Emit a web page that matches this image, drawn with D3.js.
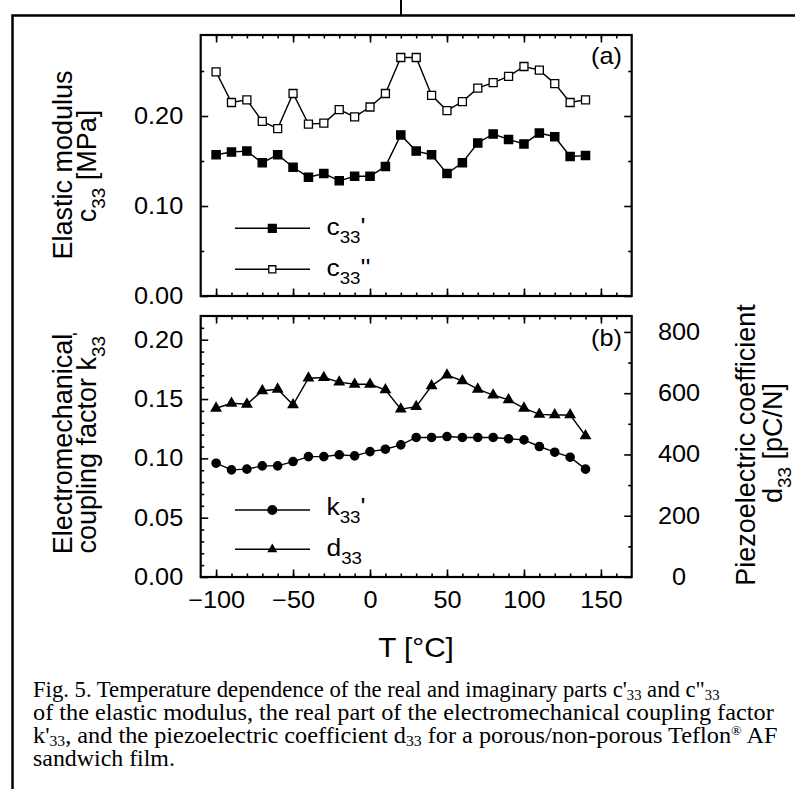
<!DOCTYPE html>
<html><head><meta charset="utf-8">
<script src="https://cdn.jsdelivr.net/npm/d3@7"></script>
<style>
html,body{margin:0;padding:0;background:#fff;}
svg{display:block;}
text{font-family:"Liberation Sans",Arial,Helvetica,sans-serif;fill:#000;}
text.cap{font-family:"Liberation Serif","Times New Roman",serif;}
</style></head><body>
<svg id="chart" width="795" height="789"></svg>
<script>
// ---------- data ----------
const temps   = [-100,-90,-80,-70,-60,-50,-40,-30,-20,-10,0,10,20,30,40,50,60,70,80,90,100,110,120,130,140];
const c33Real = [0.157,0.160,0.161,0.148,0.157,0.143,0.132,0.136,0.128,0.133,0.133,0.144,0.179,0.161,0.157,0.136,0.148,0.170,0.180,0.174,0.169,0.181,0.177,0.155,0.156];
const c33Imag = [0.249,0.215,0.218,0.194,0.186,0.225,0.191,0.192,0.207,0.199,0.210,0.225,0.265,0.265,0.223,0.206,0.216,0.231,0.237,0.244,0.255,0.251,0.236,0.215,0.218];
const k33Real = [0.0959,0.0903,0.0909,0.0937,0.0937,0.0973,0.1015,0.1015,0.1030,0.1021,0.1057,0.1077,0.1114,0.1176,0.1176,0.1184,0.1176,0.1176,0.1176,0.1165,0.1156,0.1100,0.1052,0.1010,0.0909];
const d33     = [551,567,564,608,613,562,649,651,636,629,629,611,548,556,624,659,640,613,594,578,551,531,529,529,461];

const xTicks     = [-100,-50,0,50,100,150];
const xMinor     = [-100,-90,-80,-70,-60,-50,-40,-30,-20,-10,0,10,20,30,40,50,60,70,80,90,100,110,120,130,140,150,160];
const topYTicks  = [0,0.10,0.20];
const topYMinor  = [0.05,0.15,0.25];
const botYTicks  = [0,0.05,0.10,0.15,0.20];
const botYMinor  = [0.01,0.02,0.03,0.04,0.06,0.07,0.08,0.09,0.11,0.12,0.13,0.14,0.16,0.17,0.18,0.19,0.21];
const d33Ticks   = [0,200,400,600,800];
const d33Minor   = [100,300,500,700];

// ---------- layout ----------
const SX = 1.1; // horizontal stretch of glyphs in the reference
const svg = d3.select("#chart");

const x  = d3.scaleLinear().domain([-110,170]).range([200.7,631.7]);
const yA = d3.scaleLinear().domain([0,0.29]).range([296,35]);
const yB = d3.scaleLinear().domain([0,0.22]).range([577,316]);
const yD = d3.scaleLinear().domain([0,852]).range([577,316]);

// page frame
svg.append("path").attr("d","M12.5,789V15.5H795").attr("fill","none").attr("stroke","#000").attr("stroke-width",2.5);
svg.append("path").attr("d","M401,0V15.5").attr("fill","none").attr("stroke","#000").attr("stroke-width",2);

function styleAxis(g){
  g.attr("font-size",null).attr("font-family",null);
  g.select(".domain").remove();
  g.selectAll("line").attr("stroke","#000").attr("stroke-width",1.6);
}

function drawFrame(y, yMaj, yMin, rightScale, rMaj, rMin, showX){
  const [yb, yt] = y.range();
  const [x0, x1] = x.range();
  [["b",yb],["t",yt]].forEach(([w,pos])=>{
    const mk = w==="b" ? d3.axisBottom : d3.axisTop;
    svg.append("g").attr("transform",`translate(0,${pos})`)
      .call(mk(x).tickValues(xMinor).tickSizeInner(-3.5).tickSizeOuter(0).tickFormat(""))
      .call(styleAxis);
    const g = svg.append("g").attr("transform",`translate(0,${pos})`)
      .call(mk(x).tickValues(xTicks).tickSizeInner(-7.5).tickSizeOuter(0).tickPadding(15)
        .tickFormat(w==="b" && showX ? d3.format("d") : ""))
      .call(styleAxis);
    g.selectAll("text").style("font-size","23px").attr("transform",`scale(${SX},1)`);
  });
  svg.append("g").attr("transform",`translate(${x0},0)`)
    .call(d3.axisLeft(y).tickValues(yMin).tickSizeInner(-3.5).tickSizeOuter(0).tickFormat(""))
    .call(styleAxis);
  const gl = svg.append("g").attr("transform",`translate(${x0},0)`)
    .call(d3.axisLeft(y).tickValues(yMaj).tickSizeInner(-7.5).tickSizeOuter(0).tickFormat(d3.format(".2f")))
    .call(styleAxis);
  gl.selectAll("text").style("font-size","23px").attr("x",-17.5/SX).attr("transform",`scale(${SX},1)`);
  const rs = rightScale || y;
  svg.append("g").attr("transform",`translate(${x1},0)`)
    .call(d3.axisRight(rs).tickValues(rightScale ? rMin : yMin).tickSizeInner(-3.5).tickSizeOuter(0).tickFormat(""))
    .call(styleAxis);
  const gr = svg.append("g").attr("transform",`translate(${x1},0)`)
    .call(d3.axisRight(rs).tickValues(rightScale ? rMaj : yMaj).tickSizeInner(-7.5).tickSizeOuter(0)
      .tickFormat(rightScale ? d3.format("d") : ""))
    .call(styleAxis);
  gr.selectAll("text").style("font-size","23px").attr("text-anchor","middle")
    .attr("x",(679-x1)/SX).attr("transform",`scale(${SX},1)`);
  svg.append("rect").attr("x",x0).attr("y",yt).attr("width",x1-x0).attr("height",yb-yt)
    .attr("fill","none").attr("stroke","#000").attr("stroke-width",2.2);
}

drawFrame(yA, topYTicks, topYMinor, null, null, null, false);
drawFrame(yB, botYTicks, botYMinor, yD, d33Ticks, d33Minor, true);

// ---------- series ----------
function series(vals, y, symType, symSize, fill){
  const pts = temps.map((t,i)=>({t, v: vals[i]}));
  svg.append("path").datum(pts)
    .attr("d", d3.line().x(d=>x(d.t)).y(d=>y(d.v)))
    .attr("fill","none").attr("stroke","#000").attr("stroke-width",1.4);
  svg.append("g").selectAll("path").data(pts).join("path")
    .attr("transform", d=>`translate(${x(d.t)},${y(d.v)})`)
    .attr("d", d3.symbol().type(symType).size(symSize))
    .attr("fill", fill).attr("stroke","#000").attr("stroke-width",1.3);
}
series(c33Imag, yA, d3.symbolSquare, 64, "#fff");
series(c33Real, yA, d3.symbolSquare, 68, "#000");
series(d33, yD, d3.symbolTriangle, 40, "#000");
series(k33Real, yB, d3.symbolCircle, 54, "#000");

// ---------- rich text helper ----------
function rich(parent, parts, size, cls){
  const t = parent.append("text").style("font-size", size+"px");
  if (cls) t.attr("class", cls);
  let shift = 0;
  parts.forEach(p=>{
    const ts = t.append("tspan").text(p.t);
    const target = p.sub ? (p.subShift ?? size*0.33) : (p.sup ? -size*0.38 : 0);
    if (target - shift !== 0) ts.attr("dy", target - shift);
    shift = target;
    if (p.sub || p.sup) ts.style("font-size", (p.subSize ?? size*0.7) + "px");
  });
  return t;
}

// ---------- legends ----------
function legendRow(yPos, symType, symSize, fill, parts, baseline){
  svg.append("line").attr("x1",235).attr("x2",310).attr("y1",yPos).attr("y2",yPos)
    .attr("stroke","#000").attr("stroke-width",1.4);
  svg.append("path").attr("transform",`translate(272.3,${yPos})`)
    .attr("d", d3.symbol().type(symType).size(symSize))
    .attr("fill",fill).attr("stroke","#000").attr("stroke-width",1.3);
  const g = svg.append("g").attr("transform",`translate(326.5,${baseline}) scale(${SX},1)`);
  rich(g, parts, 24);
}
legendRow(228.3, d3.symbolSquare, 62, "#000", [{t:"c"},{t:"33",sub:true,subShift:8,subSize:17},{t:"'"}], 235);
legendRow(269.3, d3.symbolSquare, 50, "#fff", [{t:"c"},{t:"33",sub:true,subShift:8,subSize:17},{t:"''"}], 276);
legendRow(510, d3.symbolCircle, 60, "#000", [{t:"k"},{t:"33",sub:true,subShift:8,subSize:17},{t:"'"}], 515);
legendRow(549.3, d3.symbolTriangle, 26, "#000", [{t:"d"},{t:"33",sub:true,subShift:8,subSize:17}], 556);

// panel labels
[["(a)",64],["(b)",346]].forEach(([s,b])=>{
  svg.append("g").attr("transform",`translate(622,${b}) scale(${SX},1)`)
    .append("text").attr("text-anchor","end").style("font-size","23px").text(s);
});

// ---------- axis titles ----------
function rotTitle(bx, cy, parts){
  const g = svg.append("g").attr("transform",`translate(${bx},${cy}) rotate(-90)`);
  rich(g, parts, 27).attr("text-anchor","middle");
}
rotTitle(72, 165, [{t:"Elastic modulus"}]);
rotTitle(96, 166, [{t:"c"},{t:"33",sub:true},{t:" [MPa]"}]);
rotTitle(72, 444, [{t:"Electromechanical"}]);
rotTitle(96, 443, [{t:"coupling factor k"},{t:"33",sub:true},{t:"'",sup:true}]);
rotTitle(755, 445, [{t:"Piezoelectric coefficient"}]);
rotTitle(782, 443, [{t:"d"},{t:"33",sub:true},{t:" [pC/N]"}]);

// x title
svg.append("g").attr("transform",`translate(416,657) scale(${SX},1)`)
  .append("text").attr("text-anchor","middle").style("font-size","27px").text("T [\u00B0C]");

// ---------- caption ----------
const capLines = [
  {b:697.3, end:720, parts:[{t:"Fig. 5. Temperature dependence of the real and imaginary parts c'"},{t:"33",sub:true,subShift:3,subSize:14.5},{t:" and c\""},{t:"33",sub:true,subShift:3,subSize:14.5}]},
  {b:720.3, end:775, parts:[{t:"of the elastic modulus, the real part of the electromechanical coupling factor"}]},
  {b:743.3, end:778, parts:[{t:"k'"},{t:"33",sub:true,subShift:3,subSize:14.5},{t:", and the piezoelectric coefficient d"},{t:"33",sub:true,subShift:3,subSize:14.5},{t:" for a porous/non-porous Teflon"},{t:"\u00AE",sup:true,subSize:13},{t:" AF"}]},
  {b:765.8, end:175, parts:[{t:"sandwich film."}]}
];
capLines.forEach(L=>{
  const g = svg.append("g").attr("transform",`translate(33,${L.b})`);
  const t = rich(g, L.parts, 22.5, "cap");
  const w = t.node().getBBox().width;
  g.attr("transform",`translate(33,${L.b}) scale(${(L.end-33)/w},1)`);
});
</script>
</body></html>
